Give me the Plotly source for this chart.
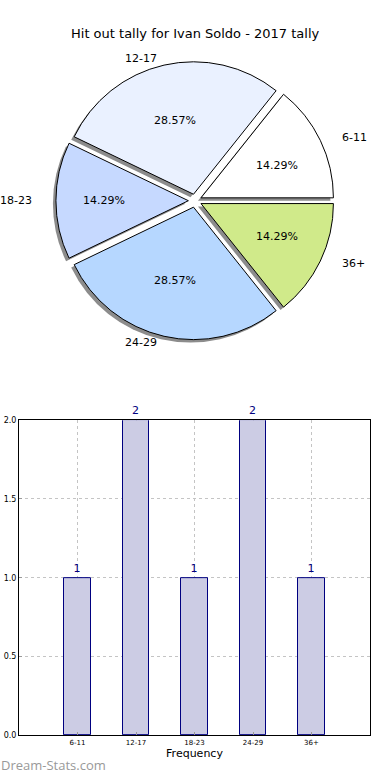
import math
import plotly.graph_objects as go

categories = ["6-11", "12-17", "18-23", "24-29", "36+"]
counts = [1, 2, 1, 2, 1]
slice_colors = ["#ffffff", "#eaf1ff", "#c6d9ff", "#b6d7ff", "#d0ea8a"]
y_ticks = [0.0, 0.5, 1.0, 1.5, 2.0]
y_tick_labels = ["0.0", "0.5", "1.0", "1.5", "2.0"]
title_text = "Hit out tally for Ivan Soldo - 2017 tally"

W, H = 390, 780
FONT = "DejaVu Sans"

# pie geometry (pixels)
cx, cy, r, pull = 195, 199, 134, 0.05
rx_txt, ry_txt = 140, 128
half = r * (1 + pull)
dom_x = [(cx - half) / W, (cx + half) / W]
dom_y = [1 - (cy + half) / H, 1 - (cy - half) / H]
sh = 3  # shadow offset px
dom_x_sh = [dom_x[0] - sh / W, dom_x[1] - sh / W]
dom_y_sh = [dom_y[0] - sh / H, dom_y[1] - sh / H]

total = sum(counts)
start_rot = 90 - 360 * counts[0] / total  # first slice starts at 3 o'clock, counterclockwise

common = dict(
    labels=categories, values=counts, sort=False, direction="counterclockwise",
    rotation=start_rot, pull=[pull] * len(counts), textinfo="none",
    showlegend=False,
)

fig = go.Figure()
fig.add_trace(go.Pie(
    **common, domain=dict(x=dom_x_sh, y=dom_y_sh),
    marker=dict(colors=["#8c8c8c"] * len(counts), line=dict(width=0)),
    hoverinfo="skip",
))
fig.add_trace(go.Pie(
    **common, domain=dict(x=dom_x, y=dom_y),
    marker=dict(colors=slice_colors, line=dict(color="black", width=1)),
))

annotations = []
cum = 0
for lab, v in zip(categories, counts):
    mid = 2 * math.pi * (cum + v / 2) / total
    cum += v
    c, s = math.cos(mid), math.sin(mid)
    d = pull + 0.6
    px, py = cx + d * rx_txt * c, cy - d * ry_txt * s
    annotations.append(dict(
        text=f"{100 * v / total:.2f}%", x=px / W, y=1 - py / H, xref="paper", yref="paper",
        showarrow=False, xanchor="center", yanchor="middle",
        font=dict(family=FONT, size=11, color="black")))
    d = pull + 1.1
    lx, ly = cx + d * rx_txt * c, cy - d * ry_txt * s
    annotations.append(dict(
        text=lab, x=lx / W, y=1 - ly / H, xref="paper", yref="paper",
        showarrow=False, xanchor="left" if c > 0 else "right", yanchor="middle",
        font=dict(family=FONT, size=11, color="black")))

# bar chart
fig.add_trace(go.Bar(
    x=list(range(len(categories))), y=counts, width=0.45,
    marker=dict(color="#ccccE4", line=dict(color="#000080", width=1)),
    text=[str(c) for c in counts], textposition="outside",
    textfont=dict(family=FONT, size=11, color="#000080"),
    cliponaxis=False, showlegend=False, xaxis="x", yaxis="y",
))

annotations += [
    dict(text=title_text, x=0.5, y=1 - 30 / H, xref="paper", yref="paper",
         showarrow=False, font=dict(size=13, family=FONT), xanchor="center", yanchor="middle"),
    dict(text="Dream-Stats.com", x=-1 / W, y=1 - 770 / H, xref="paper", yref="paper",
         showarrow=False, font=dict(size=13, family="Open Sans", color="#999999"),
         xanchor="left", yanchor="middle"),
]

fig.update_layout(
    width=W, height=H, margin=dict(l=0, r=0, t=0, b=0),
    paper_bgcolor="white", plot_bgcolor="white",
    font=dict(family=FONT, color="black"),
    showlegend=False,
    xaxis=dict(
        domain=[19 / W, 370 / W], range=[-1, 5],
        tickmode="array", tickvals=list(range(len(categories))), ticktext=categories,
        tickfont=dict(size=7), showgrid=True, gridcolor="#c4c4c4", griddash="dot",
        zeroline=False, showline=True, linecolor="black", linewidth=1, mirror=True,
        ticks="inside", ticklen=3, tickcolor="#999999", anchor="y",
        title=dict(text="Frequency", font=dict(size=11), standoff=2),
    ),
    yaxis=dict(
        domain=[1 - 740 / H, 1 - 421 / H], range=[0, 2],
        tickmode="array", tickvals=y_ticks, ticktext=y_tick_labels,
        tickfont=dict(size=8), showgrid=True, gridcolor="#c4c4c4", griddash="dot",
        zeroline=False, showline=True, linecolor="black", linewidth=1, mirror=True,
        ticks="inside", ticklen=3, tickcolor="#999999", anchor="x",
    ),
    bargap=0,
    annotations=annotations,
)

fig.write_html(
    "out.html",
    config={"displayModeBar": False},
    post_script="document.body.style.margin='0';document.body.style.overflow='hidden';",
)
